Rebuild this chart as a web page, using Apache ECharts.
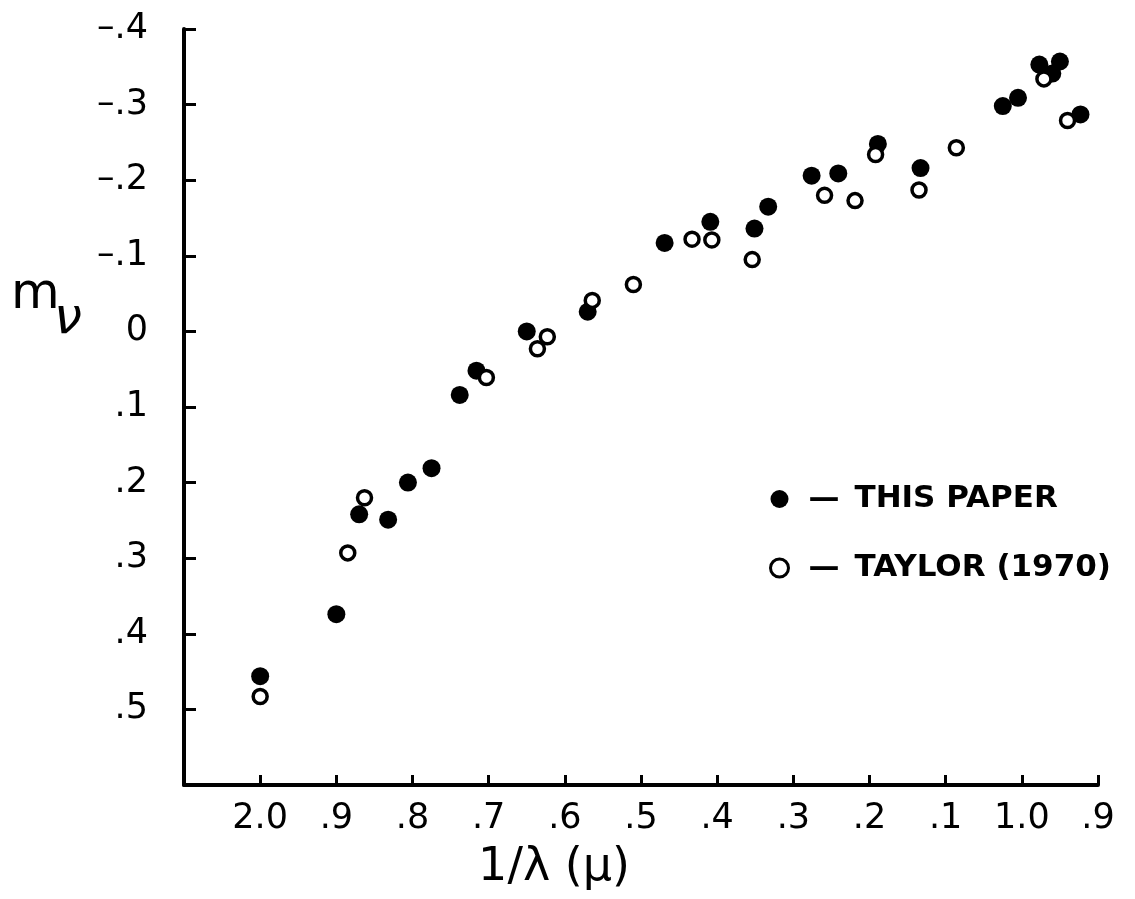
<!DOCTYPE html>
<html>
<head>
<meta charset="utf-8">
<script src="https://cdn.jsdelivr.net/npm/echarts@6/dist/echarts.min.js"></script>
<style>
html,body{margin:0;padding:0;background:#fff;}
#chart{width:1135px;height:899px;}
</style>
</head>
<body>
<div id="chart"></div>
<script>
// 1/lambda (micron^-1), m_nu (magnitudes)
const thisPaperX = [2.000, 1.900, 1.870, 1.832, 1.806, 1.775, 1.738, 1.716, 1.650, 1.570, 1.469, 1.409, 1.351, 1.333, 1.276, 1.241, 1.189, 1.133, 1.025, 1.005, 0.977, 0.950, 0.960, 0.923];
const thisPaperY = [0.456, 0.374, 0.242, 0.249, 0.200, 0.181, 0.084, 0.052, 0.000, -0.026, -0.117, -0.145, -0.136, -0.165, -0.206, -0.209, -0.248, -0.216, -0.298, -0.309, -0.353, -0.357, -0.341, -0.287];
const taylorX = [2.000, 1.885, 1.863, 1.703, 1.636, 1.623, 1.564, 1.510, 1.433, 1.407, 1.354, 1.259, 1.219, 1.192, 1.135, 1.086, 0.971, 0.940];
const taylorY = [0.483, 0.293, 0.220, 0.061, 0.023, 0.007, -0.041, -0.062, -0.122, -0.121, -0.095, -0.180, -0.173, -0.234, -0.187, -0.243, -0.334, -0.279];
const seriesNames = ['THIS PAPER', 'TAYLOR (1970)'];
const xTickLabels = {9:'.9',10:'1.0',11:'.1',12:'.2',13:'.3',14:'.4',15:'.5',16:'.6',17:'.7',18:'.8',19:'.9',20:'2.0'};
const yTickLabels = {'-4':'–.4','-3':'–.3','-2':'–.2','-1':'–.1','0':'0','1':'.1','2':'.2','3':'.3','4':'.4','5':'.5'};
const xAxisTitle = '1/λ (μ)';

const zip = (a, b) => a.map((v, i) => [v, b[i]]);
const font = 'DejaVu Sans';
const chart = echarts.init(document.getElementById('chart'));
chart.setOption({
  animation: false,
  backgroundColor: '#fff',
  grid: {left: 184, right: 37, top: 29, bottom: 114},
  xAxis: {
    type: 'value', inverse: true, min: 0.9, max: 2.1, interval: 0.1,
    splitLine: {show: false},
    axisLine: {onZero: false, lineStyle: {color: '#000', width: 4}},
    axisTick: {inside: true, length: 10, lineStyle: {color: '#000', width: 3}},
    axisLabel: {
      margin: 16, color: '#000', fontSize: 35, fontFamily: font,
      formatter: v => xTickLabels[Math.round(v * 10)] || ''
    }
  },
  yAxis: {
    type: 'value', inverse: true, min: -0.4, max: 0.6, interval: 0.1,
    splitLine: {show: false},
    axisLine: {onZero: false, lineStyle: {color: '#000', width: 4}},
    axisTick: {inside: true, length: 12, lineStyle: {color: '#000', width: 3}},
    axisLabel: {
      margin: 36, color: '#000', fontSize: 35, fontFamily: font,
      formatter: v => yTickLabels[String(Math.round(v * 10))] || ''
    }
  },
  legend: {
    orient: 'vertical', left: 764, top: 476,
    itemWidth: 18, itemHeight: 18, itemGap: 33,
    textStyle: {
      color: '#000', fontSize: 31, fontFamily: font, fontWeight: 'bold', lineHeight: 36,
      padding: [0, 0, 0, 15],
      rich: {
        d: {width: 46, color: '#000', fontSize: 31, fontFamily: font, fontWeight: 'bold', lineHeight: 36},
        t: {color: '#000', fontSize: 31, fontFamily: font, fontWeight: 'bold', lineHeight: 36}
      }
    },
    formatter: name => '{d|—}{t|' + name + '}',
    data: [
      {name: seriesNames[0], icon: 'circle', itemStyle: {color: '#000', borderWidth: 0}},
      {name: seriesNames[1], icon: 'circle', itemStyle: {color: '#fff', borderColor: '#000', borderWidth: 3}}
    ]
  },
  graphic: [
    {type: 'text', x: 11, y: 295, style: {text: 'm', fontSize: 50, fontFamily: font, fill: '#000', verticalAlign: 'middle'}},
    {type: 'text', x: 54, y: 320, style: {text: 'ν', fontSize: 50, fontStyle: 'italic', fontFamily: font, fill: '#000', verticalAlign: 'middle'}},
    {type: 'text', x: 554, y: 868, style: {text: xAxisTitle, fontSize: 46, fontFamily: font, fill: '#000', align: 'center', verticalAlign: 'middle'}}
  ],
  series: [
    {
      name: seriesNames[0], type: 'scatter', symbol: 'circle', symbolSize: 18,
      itemStyle: {color: '#000', opacity: 1},
      data: zip(thisPaperX, thisPaperY)
    },
    {
      name: seriesNames[1], type: 'scatter', symbol: 'circle', symbolSize: 14,
      itemStyle: {color: '#fff', borderColor: '#000', borderWidth: 3.5, opacity: 1},
      data: zip(taylorX, taylorY)
    }
  ]
});
</script>
</body>
</html>
